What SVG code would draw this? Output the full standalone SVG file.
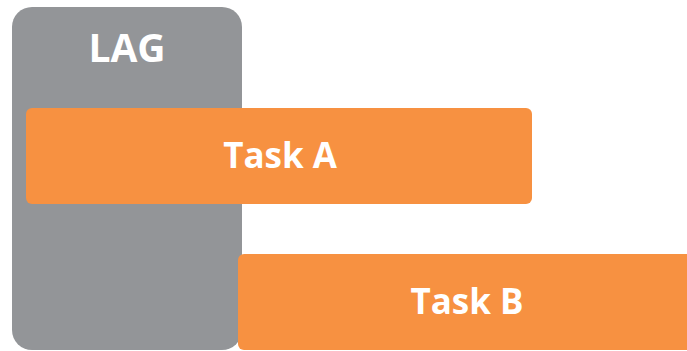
<svg xmlns="http://www.w3.org/2000/svg" width="687" height="351" viewBox="0 0 687 351">
<style>
.lbl{font-family:"Open Sans","Liberation Sans",sans-serif;font-weight:700;fill:#ffffff;text-anchor:middle}
.gray{fill:#939598}
.orange{fill:#F79141}
</style>
<rect width="687" height="351" fill="#ffffff"/>
<g id="lag">
<rect class="gray" x="12" y="7" width="230" height="343" rx="20" ry="20"/>
<text class="lbl" x="127" y="62" font-size="39">LAG</text>
</g>
<g id="task-a">
<rect class="orange" x="26" y="108" width="506" height="96" rx="6" ry="6"/>
<text class="lbl" x="280" y="168" font-size="35">Task A</text>
</g>
<g id="task-b">
<rect class="orange" x="238" y="254" width="460" height="96" rx="6" ry="6"/>
<text class="lbl" x="467" y="314" font-size="35">Task B</text>
</g>
<g id="connectors"></g>
</svg>
